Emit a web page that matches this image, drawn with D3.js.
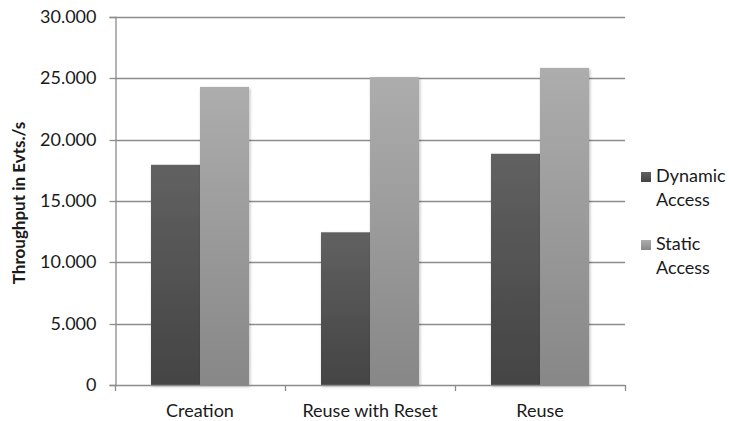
<!DOCTYPE html>
<html>
<head>
<meta charset="utf-8">
<script src="https://d3js.org/d3.v7.min.js"></script>
<style>
  html, body { margin: 0; padding: 0; background: #fff; }
  svg { display: block; }
  text { font-family: Lato, "Open Sans", sans-serif; fill: #1a1a1a; }
</style>
</head>
<body>
<div id="chart"></div>
<script>
// Throughput per object-handling strategy
const categories = ["Creation", "Reuse with Reset", "Reuse"];
const seriesNames = ["Dynamic Access", "Static Access"];
const dynamicAccess = [17950, 12450, 18850];
const staticAccess = [24300, 25100, 25850];
const yTicks = [0, 5000, 10000, 15000, 20000, 25000, 30000];
const yTitle = "Throughput in Evts./s";

const W = 729, H = 421;
const margin = { left: 115, right: 104, top: 17, bottom: 36 };
const plotRight = W - margin.right;
const plotBottom = H - margin.bottom;

const svg = d3.select("#chart").append("svg")
  .attr("width", W).attr("height", H);

const defs = svg.append("defs");
function vGrad(id, top, bottom) {
  const g = defs.append("linearGradient").attr("id", id)
    .attr("x1", 0).attr("y1", 0).attr("x2", 0).attr("y2", 1);
  g.append("stop").attr("offset", "0%").attr("stop-color", top);
  g.append("stop").attr("offset", "100%").attr("stop-color", bottom);
}
vGrad("gDyn", "#616161", "#444444");
vGrad("gSta", "#adadad", "#878787");
const fills = ["url(#gDyn)", "url(#gSta)"];

const sh = defs.append("filter").attr("id", "shadow")
  .attr("x", "-20%").attr("y", "-5%").attr("width", "140%").attr("height", "115%");
sh.append("feDropShadow").attr("dx", 1).attr("dy", 1.5)
  .attr("stdDeviation", 1.6).attr("flood-color", "#000").attr("flood-opacity", 0.28);

const locale = d3.formatLocale({ decimal: ",", thousands: ".", grouping: [3], currency: ["", ""] });
const fmt = locale.format(",d");

const y = d3.scaleLinear().domain([0, 30000]).range([plotBottom, margin.top]);
const x = d3.scaleBand().domain(categories)
  .range([margin.left, plotRight])
  .paddingInner(0.4235).paddingOuter(0.21176);
const xs = d3.scaleBand().domain(seriesNames).range([0, x.bandwidth()]);

// horizontal gridlines
svg.append("g").selectAll("line").data(yTicks.filter(d => d > 0)).join("line")
  .attr("x1", margin.left).attr("x2", plotRight)
  .attr("y1", d => Math.round(y(d)) + 0.5).attr("y2", d => Math.round(y(d)) + 0.5)
  .attr("stroke", "#8c8c8c").attr("stroke-width", 1.3);

// y axis
const yAxis = svg.append("g").attr("transform", `translate(${margin.left + 0.5},0)`)
  .call(d3.axisLeft(y).tickValues(yTicks).tickFormat(fmt).tickSize(6).tickPadding(13));
yAxis.select(".domain").attr("stroke", "#8c8c8c").attr("stroke-width", 1.3);
yAxis.selectAll(".tick line").attr("stroke", "#8c8c8c").attr("stroke-width", 1.3);
yAxis.selectAll(".tick text").attr("font-size", 18).attr("font-family", "Lato").attr("fill", "#1a1a1a");
yAxis.selectAll(".tick").attr("transform", d => `translate(0,${Math.round(y(d)) + 0.5})`);

// bars
const rows = categories.map((c, i) => ({ cat: c, vals: [dynamicAccess[i], staticAccess[i]] }));
const grp = svg.append("g").selectAll("g").data(rows).join("g")
  .attr("transform", d => `translate(${x(d.cat)},0)`);
grp.selectAll("rect").data(d => d.vals.map((v, k) => ({ v, k }))).join("rect")
  .attr("x", d => xs(seriesNames[d.k]))
  .attr("width", xs.bandwidth())
  .attr("y", d => y(d.v))
  .attr("height", d => y(0) - y(d.v))
  .attr("fill", d => fills[d.k])
  .attr("filter", "url(#shadow)");

// x axis with category separators
const xAxis = svg.append("g");
xAxis.append("line")
  .attr("x1", margin.left).attr("x2", plotRight)
  .attr("y1", Math.round(plotBottom) + 0.5).attr("y2", Math.round(plotBottom) + 0.5)
  .attr("stroke", "#8c8c8c").attr("stroke-width", 1.3);
const sepX = d3.range(categories.length + 1).map(i => margin.left + i * x.step());
xAxis.selectAll("line.sep").data(sepX).join("line").attr("class", "sep")
  .attr("x1", d => Math.round(d) + 0.5).attr("x2", d => Math.round(d) + 0.5)
  .attr("y1", plotBottom).attr("y2", plotBottom + 6)
  .attr("stroke", "#8c8c8c").attr("stroke-width", 1.3);
xAxis.selectAll("text").data(categories).join("text")
  .attr("x", d => x(d) + x.bandwidth() / 2)
  .attr("y", plotBottom + 32)
  .attr("text-anchor", "middle")
  .attr("font-size", 18)
  .text(d => d);

// y title
svg.append("text")
  .attr("transform", `translate(25,${(margin.top + plotBottom) / 2 + 2}) rotate(-90)`)
  .attr("text-anchor", "middle")
  .attr("font-size", 17)
  .attr("font-weight", "bold")
  .text(yTitle);

// legend
const legendItems = [
  { lines: ["Dynamic", "Access"], y0: 182 },
  { lines: ["Static", "Access"], y0: 250 }
];
const lg = svg.append("g");
legendItems.forEach((it, i) => {
  lg.append("rect")
    .attr("x", 641).attr("y", it.y0 - 10).attr("width", 10).attr("height", 10)
    .attr("fill", fills[i]);
  const t = lg.append("text").attr("x", 656).attr("y", it.y0).attr("font-size", 18);
  it.lines.forEach((ln, j) => {
    t.append("tspan").attr("x", 656).attr("dy", j === 0 ? 0 : 24).text(ln);
  });
});
</script>
</body>
</html>
